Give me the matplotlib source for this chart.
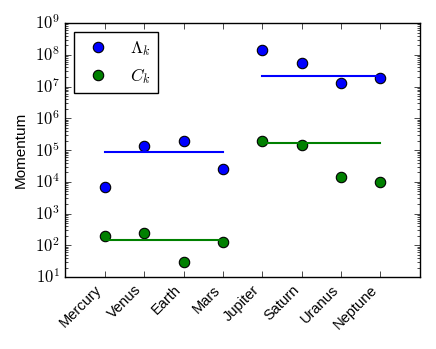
import matplotlib
matplotlib.use('Agg')
import matplotlib.pyplot as plt
from matplotlib.ticker import FuncFormatter
import numpy as np

plt.style.use('classic')
plt.rcParams['font.family'] = ['Liberation Sans', 'DejaVu Sans']
plt.rcParams['mathtext.fontset'] = 'cm'
plt.rcParams['mathtext.default'] = 'it'

# data
planets = ['Mercury', 'Venus', 'Earth', 'Mars', 'Jupiter', 'Saturn', 'Uranus', 'Neptune']
lam = [6.8e3, 1.3e5, 1.9e5, 2.5e4, 1.4e8, 5.5e7, 1.3e7, 1.9e7]
ck = [195, 245, 30, 126, 2.0e5, 1.45e5, 1.4e4, 9.8e3]
# group levels (inner / outer planets)
lam_level = [9.0e4, 2.1e7]
ck_level = [147, 1.66e5]
groups = [(0, 3), (4, 7)]

x = list(range(len(planets)))

fig, ax = plt.subplots(figsize=(4.36, 3.49), dpi=100)
ax.semilogy(x, lam, 'o', color='b', markersize=7.5, mew=0.8, label=r'$\Lambda_k$')
ax.semilogy(x, ck, 'o', color='g', markersize=7.5, mew=0.8, label=r'$C_k$')
for (a, b), lv, cv in zip(groups, lam_level, ck_level):
    ax.plot([a, b], [lv, lv], '-', color='b', lw=1.5)
    ax.plot([a, b], [cv, cv], '-', color='g', lw=1.5)

ax.set_xlim(-1, 8)
ax.set_ylim(1e1, 1e9)
ax.set_xticks(x)
ax.set_xticklabels(planets, rotation=45, ha='right', fontsize=10.5)
ax.yaxis.set_major_formatter(FuncFormatter(lambda v, p: r'$\mathrm{10}^{\mathrm{%d}}$' % round(np.log10(v))))
ax.tick_params(axis='y', labelsize=12)
ax.set_ylabel('Momentum', fontsize=11)
ax.legend(loc='upper left', numpoints=1, fontsize=12.5)

plt.subplots_adjust(left=0.15, right=0.963, top=0.934, bottom=0.206)
plt.savefig('out.png', dpi=100)
